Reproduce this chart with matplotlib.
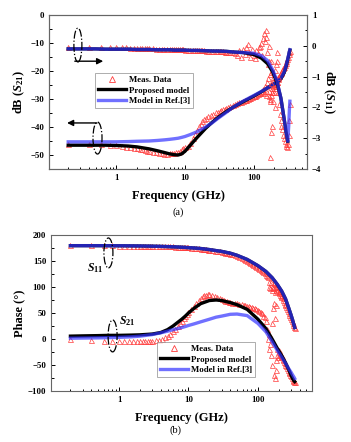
import numpy as np
import matplotlib
matplotlib.use("Agg")
import matplotlib.pyplot as plt
from matplotlib.patches import Ellipse
from matplotlib.lines import Line2D

plt.rcParams['font.family'] = ['Liberation Serif', 'DejaVu Serif']
plt.rcParams['font.weight'] = 'bold'
plt.rcParams['mathtext.fontset'] = 'custom'
plt.rcParams['mathtext.rm'] = 'Liberation Serif:bold'
plt.rcParams['mathtext.bf'] = 'Liberation Serif:bold'
plt.rcParams['mathtext.it'] = 'Liberation Serif:italic:bold'

# ---------------- data ----------------
# model frequency grid (GHz)
f_model = [0.2, 0.3, 0.5, 0.7, 1, 1.5, 2, 3, 4, 5, 6, 7, 8, 9, 10, 12, 15, 20, 25, 30,
           40, 50, 70, 100, 130, 160, 190, 220, 250, 280, 300, 315, 325, 332, 338]

s21_db_prop = [-46.5, -46.5, -46.5, -46.5, -46.6, -46.8, -47.1, -47.8, -48.5, -49.1,
               -49.6, -49.9, -50.0, -49.6, -48.7, -46.5, -43.8, -40.5, -38.3, -36.7,
               -34.5, -33.0, -31.0, -29.0, -27.4, -26.0, -24.9, -24.0, -22.8, -20.5,
               -18.0, -15.8, -14.3, -13.2, -12.5]
s21_db_ref3 = [-45.3, -45.3, -45.3, -45.3, -45.3, -45.2, -45.1, -45.0, -44.8, -44.6,
               -44.4, -44.2, -44.0, -43.7, -43.4, -42.7, -41.7, -40.0, -38.5, -37.0,
               -34.8, -33.0, -30.8, -28.8, -27.3, -26.0, -24.9, -23.9, -22.6, -20.3,
               -17.8, -15.6, -14.1, -13.0, -12.4]
s11_db_prop = [-0.10, -0.10, -0.10, -0.11, -0.11, -0.11, -0.12, -0.12, -0.13, -0.13,
               -0.13, -0.14, -0.14, -0.14, -0.14, -0.15, -0.15, -0.16, -0.17, -0.17,
               -0.18, -0.20, -0.22, -0.28, -0.40, -0.58, -0.85, -1.20, -1.70, -2.40,
               -2.85, -3.10, None, None, None]
s11_db_ref3 = [-0.10, -0.10, -0.10, -0.11, -0.11, -0.11, -0.12, -0.12, -0.13, -0.13,
               -0.13, -0.14, -0.14, -0.14, -0.14, -0.15, -0.15, -0.16, -0.17, -0.17,
               -0.18, -0.20, -0.22, -0.24, -0.32, -0.48, -0.78, -1.15, -1.70, -2.40,
               -2.85, -3.10, -2.60, -2.10, -1.80]
s21_ph_prop = [5.5, 6, 6.5, 7, 7, 7.5, 8, 9.5, 12.5, 18,
               25, 32, 38, 44, 50, 59, 68, 74, 75, 74,
               70, 66, 57, 38, 20, 0, -18, -32, -46, -60,
               -70, -76, -79, -81, -82]
s21_ph_ref3 = [1.5, 1.8, 2.2, 2.6, 3.2, 4.2, 5.5, 8.5, 12, 15,
               18, 20, 22, 24, 26, 29, 33, 38, 42, 44,
               47.5, 48, 45, 30, 14, -5, -22, -35, -47, -58,
               -64, -69, -72, -74, -76]
s11_ph_model = [179.5, 179.5, 179.5, 179.4, 179.3, 179.1, 178.9, 178.5, 178.1, 177.7,
                177.3, 176.9, 176.5, 176.1, 175.7, 175, 174, 172, 170, 168.5,
                165, 161, 153, 141, 130, 118, 105, 92, 77, 58,
                46, 37, 30, 26, 22]

# measured frequency grid (GHz)
f_meas = [0.2, 0.4, 0.6, 0.8, 1.0, 1.2, 1.4, 1.6, 1.8, 2.0,
          2.2, 2.4, 2.6, 2.8, 3.0, 3.4, 3.8, 4.2, 4.6, 5.0,
          5.5, 6.0, 6.5, 7.0, 7.5, 8.0, 8.5, 9.0, 9.5, 10,
          11, 12, 13, 14, 15, 16, 17, 18, 19, 20,
          22, 24, 26, 28, 30, 32, 34, 36, 38, 40,
          43, 46, 50, 54, 58, 62, 66, 70, 74, 78,
          82, 86, 90, 95, 100, 105, 110, 115, 120, 125,
          130, 134, 138, 142, 146, 150, 154, 158, 162, 166,
          170, 173, 176, 178, 180, 182, 184, 187, 190, 194,
          198, 202, 206, 210, 214, 218, 222, 226, 230, 236,
          242, 248, 254, 260, 268, 276, 284, 292, 300, 308,
          316, 324, 332, 340]
s21_db_meas = [-46.0, -46.1, -46.2, -46.4, -46.6, -46.8, -47.0, -47.2, -47.4, -47.6,
               -47.8, -48.0, -48.2, -48.4, -48.6, -48.9, -49.1, -49.3, -49.4, -49.5,
               -49.5, -49.4, -49.3, -49.2, -49.0, -48.8, -48.5, -48.0, -47.6, -47.3,
               -46.8, -45.8, -44.0, -42.5, -41.0, -39.8, -38.8, -38.0, -37.3, -36.8,
               -36.2, -35.6, -35.2, -34.8, -34.5, -34.2, -34.0, -33.6, -33.4, -33.2,
               -33.0, -32.6, -32.2, -31.8, -31.6, -31.2, -31.0, -30.8, -30.5, -30.3,
               -30.0, -29.8, -29.6, -29.3, -29.0, -28.8, -28.6, -28.3, -28.0, -27.8,
               -27.5, -27.0, -26.5, -27.8, -25.5, -27.0, -28.5, -24.0, -22.5, -29.0,
               -27.0, -21.0, -30.0, -25.0, -28.5, -20.5, -26.0, -27.5, -23.5, -25.5,
               -24.8, -23.0, -26.0, -24.5, -22.5, -24.0, -23.8, -23.0, -22.5, -21.8,
               -21.2, -20.8, -20.2, -19.8, -19.0, -18.5, -18.0, -17.2, -16.5, -15.8,
               -15.0, -14.0, -13.2, -12.8]
s11_db_meas = [-0.03, -0.03, -0.04, -0.04, -0.05, -0.05, -0.05, -0.06, -0.06, -0.06,
               -0.07, -0.07, -0.07, -0.08, -0.08, -0.08, -0.09, -0.09, -0.09, -0.10,
               -0.10, -0.10, -0.11, -0.11, -0.11, -0.12, -0.12, -0.12, -0.12, -0.13,
               -0.13, -0.13, -0.14, -0.14, -0.14, -0.15, -0.15, -0.15, -0.15, -0.16,
               -0.16, -0.16, -0.17, -0.17, -0.17, -0.18, -0.18, -0.18, -0.19, -0.19,
               -0.20, -0.20, -0.21, -0.22, -0.30, -0.15, -0.35, -0.10, -0.28, -0.05,
               0.05, -0.20, -0.35, -0.10, -0.30, -0.40, -0.15, -0.25, -0.05, 0.00,
               0.10, -0.30, 0.25, 0.40, 0.15, 0.50, 0.30, -0.20, -0.60, 0.00,
               -0.50, -1.80, -3.60, -2.80, -1.20, -0.50, -1.50, -2.60, -1.80, -1.00,
               -1.50, -2.00, -0.80, -1.30, -0.60, -0.20, -0.50, -1.00, -1.50, -1.90,
               -2.20, -2.40, -2.60, -2.70, -2.90, -3.00, -3.10, -3.20, -3.25, -3.30,
               -3.20, -2.90, -2.40, -1.90]
s21_ph_meas = [0, -2, -3, -3, -3, -4, -4, -4, -4, -4,
               -4, -4, -3, -3, -3, -2, -1, 0, 3, 6,
               10, 15, 20, 25, 30, 35, 40, 44, 48, 52,
               58, 64, 70, 75, 79, 82, 84, 85, 86, 86,
               85, 82, 80, 78, 76, 75, 74, 73, 72, 71,
               70, 69, 70, 68, 67, 66, 65, 64, 63, 62,
               61, 60, 60, 58, 56, 54, 52, 50, 45, 42,
               35, 20, 0, -20, 10, -10, -30, 30, -50, 60,
               -70, 70, -75, 40, -60, 65, -40, -20, -30, -35,
               -25, -22, -30, -28, -32, -35, -33, -38, -40, -44,
               -46, -50, -52, -56, -60, -63, -66, -70, -72, -75,
               -78, -80, -82, -82]
s11_ph_meas = [180, 180, 180, 180, 179.5, 179.5, 179.5, 179.5, 179.5, 179.5,
               179.5, 179, 179, 179, 179, 179, 178.5, 178.5, 178.5, 178,
               178, 178, 177.5, 177.5, 177, 177, 177, 176.5, 176.5, 176,
               175.5, 175, 175, 174.5, 174, 173.5, 173, 172.5, 172, 172,
               171, 170, 169, 168.5, 168, 167, 166, 165, 164.5, 164,
               163, 162, 160, 158, 156, 154, 152, 150, 148, 146,
               144, 142, 140, 138, 136, 134, 132, 130, 128, 126,
               124, 122, 120, 110, 100, 98, 110, 100, 95, 98,
               110, 108, 90, 100, 105, 95, 100, 102, 92, 96,
               90, 88, 92, 85, 82, 80, 84, 78, 75, 72,
               68, 65, 62, 58, 54, 50, 46, 42, 38, 34,
               30, 27, 24, 21]

legend_labels = ['Meas. Data', 'Proposed model', 'Model in Ref.[3]']

# ---------------- style ----------------
RED = '#ff3b3b'
BLACK = '#000000'
BLUE = '#3333ff'
BLUE_ALPHA = 0.7
LW = 2.4
MS = 3.6
TICK_FS = 6.3
LABEL_FS = 9
SPINE_C = '#666666'

fig = plt.figure(figsize=(3.51, 4.42), dpi=100)

def style_axis(ax, right=False):
    for sp in ax.spines.values():
        sp.set_color(SPINE_C)
        sp.set_linewidth(0.8)
    ax.tick_params(which='both', direction='in', top=False, right=right,
                   left=not right, labelsize=TICK_FS, colors='black', width=0.7)
    ax.tick_params(which='major', length=3.2)
    ax.tick_params(which='minor', length=1.8)
    for lab in ax.get_xticklabels() + ax.get_yticklabels():
        lab.set_fontweight('bold')

def setup_xaxis(ax):
    ax.set_xscale('log')
    ax.set_xlim(0.105, 600)
    ax.set_xticks([1, 10, 100])
    ax.set_xticklabels(['1', '10', '100'])
    ax.xaxis.set_minor_locator(matplotlib.ticker.LogLocator(base=10, subs=np.arange(2, 10)))
    ax.xaxis.set_minor_formatter(matplotlib.ticker.NullFormatter())

def ellipse(ax, xc, yc, w, h):
    e = Ellipse((xc, yc), w, h, transform=ax.transAxes, fill=False,
                edgecolor='black', linestyle='-.', linewidth=0.9, zorder=6)
    ax.add_patch(e)

def arrow(ax, x0, x1, y):
    ax.annotate('', xy=(x1, y), xytext=(x0, y), xycoords='axes fraction',
                textcoords='axes fraction',
                arrowprops=dict(arrowstyle='-|>', color='black', lw=1.0,
                                mutation_scale=9, shrinkA=0, shrinkB=0), zorder=6)

def legend_handles():
    return [Line2D([], [], linestyle='none', marker='^', markersize=MS + 0.4,
                   markerfacecolor='none', markeredgecolor=RED, markeredgewidth=0.6),
            Line2D([], [], color=BLACK, lw=LW),
            Line2D([], [], color=BLUE, lw=LW, alpha=BLUE_ALPHA)]

# ---------------- panel (a) ----------------
axa = fig.add_axes([49 / 351, 1 - 169 / 442, 258 / 351, 154 / 442])
axa2 = axa.twinx()

axa.plot(f_meas, s21_db_meas, linestyle='none', marker='^', markersize=MS,
         markerfacecolor='none', markeredgecolor=RED, markeredgewidth=0.5, zorder=2)
axa.plot(f_model, s21_db_prop, color=BLACK, lw=LW, zorder=3)
axa.plot(f_model, s21_db_ref3, color=BLUE, lw=LW, alpha=BLUE_ALPHA, zorder=4)

s11p = np.array(s11_db_prop, dtype=float)
axa2.plot(f_meas, s11_db_meas, linestyle='none', marker='^', markersize=MS,
          markerfacecolor='none', markeredgecolor=RED, markeredgewidth=0.5, zorder=2)
axa2.plot(f_model, s11p, color=BLACK, lw=LW, zorder=3)
axa2.plot(f_model, s11_db_ref3, color=BLUE, lw=LW, alpha=BLUE_ALPHA, zorder=4)

setup_xaxis(axa)
axa.set_ylim(-55, 0)
axa.set_yticks([-50, -40, -30, -20, -10, 0])
axa.yaxis.set_minor_locator(matplotlib.ticker.MultipleLocator(5))
axa2.set_ylim(-4, 1)
axa2.set_yticks([-4, -3, -2, -1, 0, 1])
axa2.yaxis.set_minor_locator(matplotlib.ticker.MultipleLocator(0.5))
style_axis(axa)
style_axis(axa2, right=True)
axa2.tick_params(axis='x', which='both', bottom=False, top=False)

axa.set_xlabel('Frequency (GHz)', fontsize=LABEL_FS, fontweight='bold', labelpad=6)
axa.set_ylabel(r'dB ($S_{21}$)', fontsize=LABEL_FS, fontweight='bold', labelpad=2)
axa2.set_ylabel(r'dB ($S_{11}$)', fontsize=LABEL_FS, fontweight='bold',
                rotation=270, labelpad=11)

ellipse(axa2, 0.112, 0.805, 0.031, 0.22)
arrow(axa2, 0.10, 0.21, 0.70)
ellipse(axa2, 0.188, 0.201, 0.035, 0.208)
arrow(axa2, 0.186, 0.07, 0.299)

leg = axa2.legend(legend_handles(), legend_labels, loc='upper left',
                  bbox_to_anchor=(0.178, 0.623), borderaxespad=0,
                  frameon=True, fancybox=False, edgecolor='#888888',
                  handlelength=3.2, handletextpad=0.3, borderpad=0.35,
                  labelspacing=0.25, prop={'weight': 'bold', 'size': 6.3})
leg.get_frame().set_linewidth(0.6)

fig.text(178 / 351, 1 - 212 / 442, '(a)', ha='center', va='center',
         fontsize=7.5, fontweight='normal')

# ---------------- panel (b) ----------------
axb = fig.add_axes([51 / 351, 1 - 391 / 442, 261 / 351, 156 / 442])

axb.plot(f_meas, s11_ph_meas, linestyle='none', marker='^', markersize=MS,
         markerfacecolor='none', markeredgecolor=RED, markeredgewidth=0.5, zorder=2)
axb.plot(f_meas, s21_ph_meas, linestyle='none', marker='^', markersize=MS,
         markerfacecolor='none', markeredgecolor=RED, markeredgewidth=0.5, zorder=2)
axb.plot(f_model, s11_ph_model, color=BLACK, lw=LW, zorder=3)
axb.plot(f_model, s21_ph_prop, color=BLACK, lw=LW, zorder=3)
axb.plot(f_model, s11_ph_model, color=BLUE, lw=LW, alpha=BLUE_ALPHA, zorder=4)
axb.plot(f_model, s21_ph_ref3, color=BLUE, lw=LW, alpha=BLUE_ALPHA, zorder=4)

setup_xaxis(axb)
axb.set_ylim(-100, 200)
axb.set_yticks([-100, -50, 0, 50, 100, 150, 200])
axb.yaxis.set_minor_locator(matplotlib.ticker.MultipleLocator(25))
style_axis(axb)

axb.set_xlabel('Frequency (GHz)', fontsize=LABEL_FS, fontweight='bold', labelpad=6)
axb.set_ylabel('Phase (°)', fontsize=LABEL_FS, fontweight='bold', labelpad=2)

ellipse(axb, 0.220, 0.885, 0.0345, 0.192)
ellipse(axb, 0.236, 0.353, 0.0345, 0.205)
axb.text(0.169, 0.79, r'$S_{11}$', transform=axb.transAxes, ha='center',
         va='center', fontsize=8.5)
axb.text(0.291, 0.449, r'$S_{21}$', transform=axb.transAxes, ha='center',
         va='center', fontsize=8.5)

leg2 = axb.legend(legend_handles(), legend_labels, loc='upper left',
                  bbox_to_anchor=(0.406, 0.314), borderaxespad=0,
                  frameon=True, fancybox=False, edgecolor='#888888',
                  handlelength=3.2, handletextpad=0.3, borderpad=0.35,
                  labelspacing=0.25, prop={'weight': 'bold', 'size': 6.3})
leg2.get_frame().set_linewidth(0.6)

fig.text(175 / 351, 1 - 430 / 442, '(b)', ha='center', va='center',
         fontsize=7.5, fontweight='normal')

fig.savefig('out.png', dpi=100, facecolor='white')
